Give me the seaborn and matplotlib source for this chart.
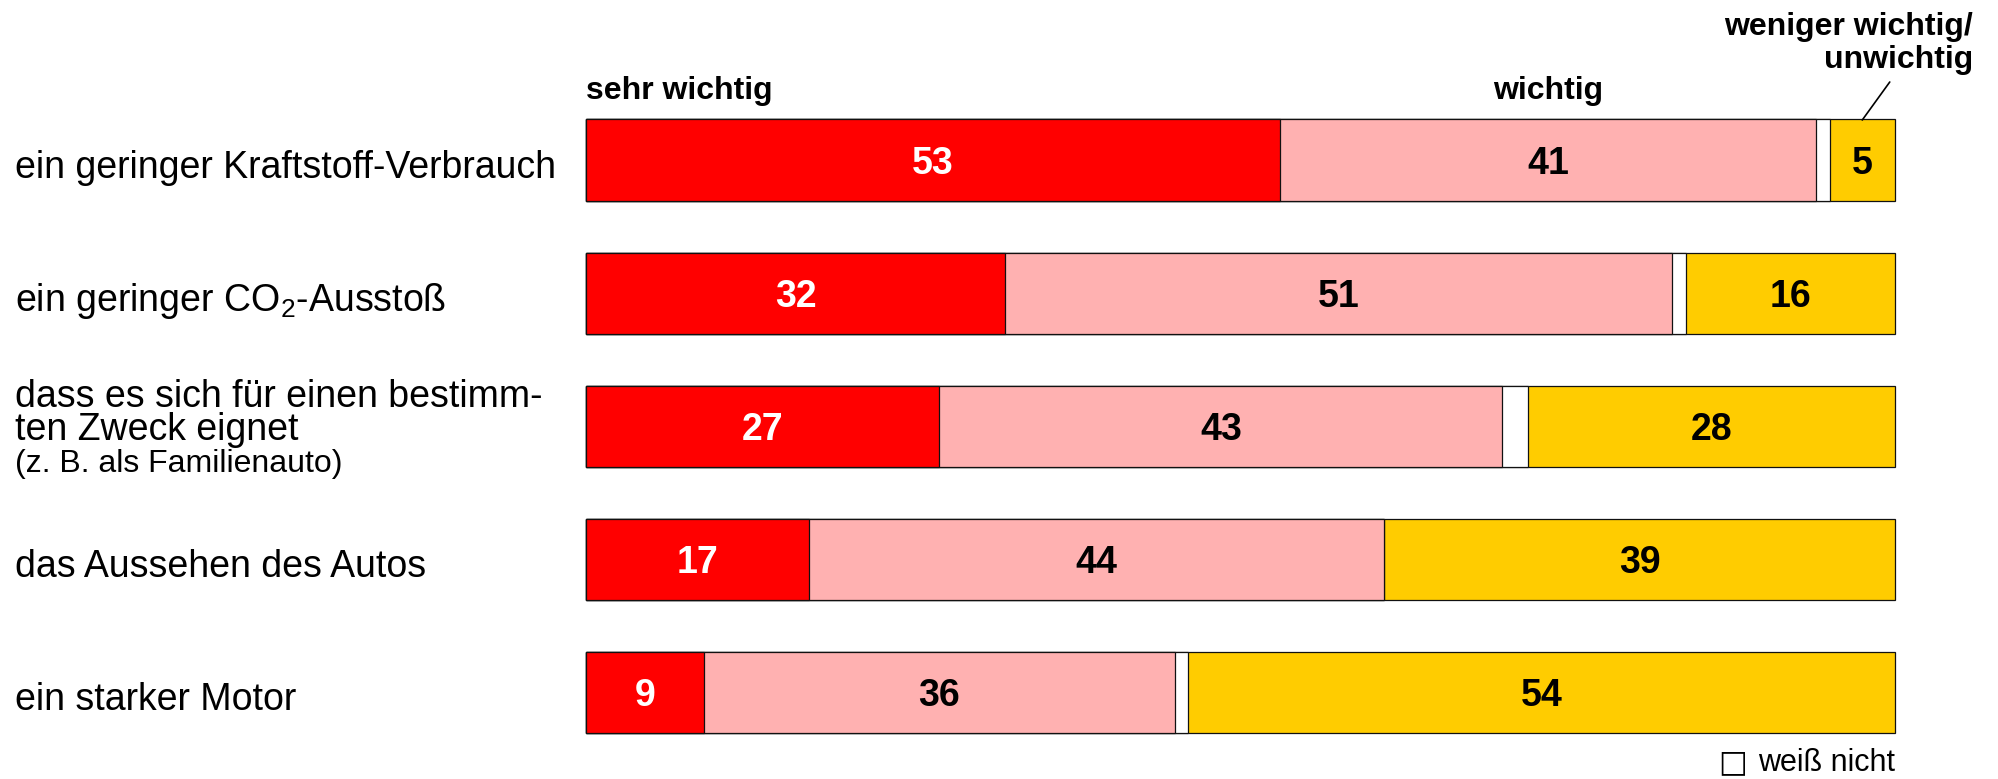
import matplotlib
matplotlib.use("Agg")
import matplotlib.pyplot as plt
import matplotlib.transforms as mtransforms
import seaborn as sns
import numpy as np
import pandas as pd

# data
keys = ["verbrauch", "co2", "zweck", "aussehen", "motor"]
labels = [
    "ein geringer Kraftstoff-Verbrauch",
    "ein geringer CO$_2$-Ausstoß",
    "dass es sich für einen bestimm-\nten Zweck eignet",
    "das Aussehen des Autos",
    "ein starker Motor",
]
label_notes = ["", "", "(z. B. als Familienauto)", "", ""]
sehr_wichtig = [53, 32, 27, 17, 9]
wichtig = [41, 51, 43, 44, 36]
weiss_nicht = [1, 1, 2, 0, 1]
weniger_wichtig = [5, 16, 28, 39, 54]

series_names = ["sehr wichtig", "wichtig", "weiß nicht", "weniger wichtig/\nunwichtig"]
colors = ["#ff0000", "#ffb1b1", "#ffffff", "#ffcc00"]
text_colors = ["white", "black", None, "black"]

sns.set_style("white")
plt.rcParams["font.family"] = ["Liberation Sans", "DejaVu Sans"]
plt.rcParams["mathtext.default"] = "regular"
plt.rcParams["text.color"] = "black"

W, H = 1998, 779
fig = plt.figure(figsize=(W / 100, H / 100), dpi=100)
row_px = (692.5 - 160) / 4
top_px = 160 - row_px / 2
bot_px = 692.5 + row_px / 2
ax = fig.add_axes([586 / W, 1 - bot_px / H, (1895 - 586) / W, (bot_px - top_px) / H])

vals = np.array([sehr_wichtig, wichtig, weiss_nicht, weniger_wichtig], dtype=float)
cum = np.cumsum(vals, axis=0)

# stacked bars drawn as overlapping cumulative bars, longest first
for i in range(len(series_names) - 1, -1, -1):
    df = pd.DataFrame({"key": keys, "value": cum[i]})
    sns.barplot(data=df, x="value", y="key", orient="h", color=colors[i],
                saturation=1, edgecolor="#111111", linewidth=0.9, width=0.61, ax=ax)
for p in ax.patches:
    p.set_clip_on(False)

ax.set_xlim(0, 100)
ax.set_ylim(len(keys) - 0.5, -0.5)
ax.axis("off")

# segment values
for r in range(len(keys)):
    left = 0
    for i in range(len(series_names)):
        v = vals[i, r]
        if text_colors[i] is not None and v > 0:
            ax.text(left + v / 2, r, f"{int(v)}", ha="center", va="center_baseline",
                    fontsize=27, fontweight="bold", color=text_colors[i])
        left += v

# row labels
px = 1 / row_px
trans = mtransforms.blended_transform_factory(fig.transFigure, ax.transData)
for r, lab in enumerate(labels):
    lines = lab.split("\n")
    if len(lines) == 1:
        ax.text(15 / W, r + 18 * px, lab, transform=trans, ha="left", va="baseline",
                fontsize=27)
    else:
        for j, line in enumerate(lines):
            ax.text(15 / W, r + (-19.5 + 33 * j) * px, line, transform=trans,
                    ha="left", va="baseline", fontsize=27)
        ax.text(15 / W, r + 45.5 * px, label_notes[r], transform=trans,
                ha="left", va="baseline", fontsize=23)

# series headers
hy = (99 - 160) * px
ax.text(0, hy, series_names[0], ha="left", va="baseline", fontsize=23,
        fontweight="bold", clip_on=False)
ax.text(sehr_wichtig[0] + wichtig[0] / 2, hy, series_names[1], ha="center",
        va="baseline", fontsize=23, fontweight="bold", clip_on=False)
for j, line in enumerate(series_names[3].split("\n")):
    ax.text(105.96, (35 + 33 * j - 160) * px, line, ha="right", va="baseline",
            fontsize=23, fontweight="bold", clip_on=False)
x5 = cum[2, 0] + weniger_wichtig[0] / 2
ax.plot([x5, x5 + 2.1], [(120 - 160) * px, (82 - 160) * px], color="black",
        lw=1.2, clip_on=False)

# weiß nicht note with an empty box
ny = 4 + (771 - 692.5) * px
ax.text(100, ny, series_names[2], ha="right", va="baseline", fontsize=22,
        clip_on=False)
ax.text(86.5, ny, "□", ha="left", va="baseline", fontsize=22,
        family="DejaVu Sans", clip_on=False)

fig.savefig("out.png", dpi=100)
